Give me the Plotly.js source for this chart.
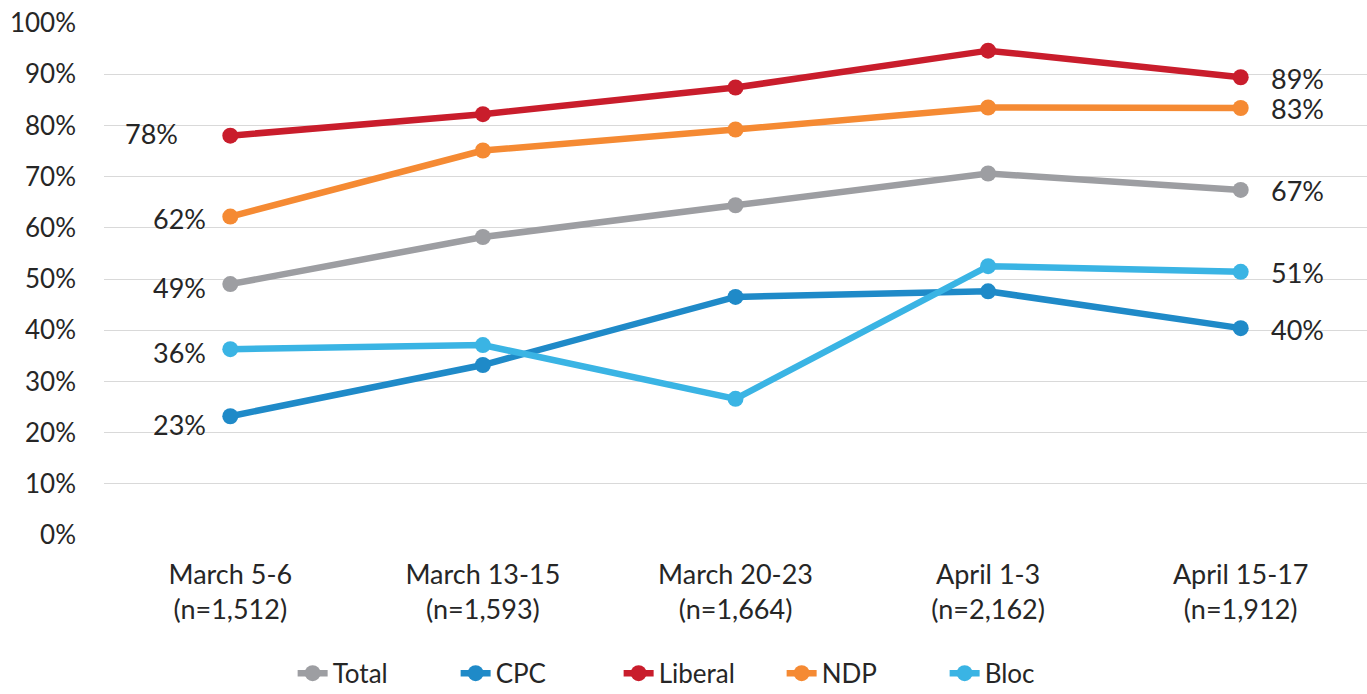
<!DOCTYPE html>
<html>
<head>
<meta charset="utf-8">
<script src="https://cdn.plot.ly/plotly-3.0.1.min.js"></script>
<style>html,body{margin:0;padding:0;background:#fff;}#chart{width:1367px;height:694px;}</style>
</head>
<body>
<div id="chart"></div>
<script>
const categories = ["March 5-6<br>(n=1,512)", "March 13-15<br>(n=1,593)", "March 20-23<br>(n=1,664)", "April 1-3<br>(n=2,162)", "April 15-17<br>(n=1,912)"];
const seriesNames = ["Total", "CPC", "Liberal", "NDP", "Bloc"];
const total   = [49.0, 58.2, 64.4, 70.6, 67.4];
const cpc     = [23.2, 33.2, 46.5, 47.6, 40.4];
const liberal = [78.0, 82.2, 87.4, 94.6, 89.4];
const ndp     = [62.2, 75.1, 79.2, 83.5, 83.4];
const bloc    = [36.3, 37.1, 26.6, 52.5, 51.4];
const yTickVals = [0, 10, 20, 30, 40, 50, 60, 70, 80, 90, 100];
const yTickText = ["0%", "10%", "20%", "30%", "40%", "50%", "60%", "70%", "80%", "90%", "100%"];

const seriesValues = [total, cpc, liberal, ndp, bloc];
const colors = ["#9d9ea2", "#1f8ac8", "#c91d2c", "#f58a33", "#3ab4e4"];
const leftShift = [-22, -22, -50, -22, -22];
const leftYShift = [-3, -8, 2, -2, -3];
const FONT = "Lato, 'Open Sans', sans-serif";
const TXT = "#262626";

const traces = seriesNames.map((name, i) => ({
  type: "scatter",
  mode: "lines+markers",
  name: name,
  x: categories,
  y: seriesValues[i],
  line: {color: colors[i], width: 6.5},
  marker: {color: colors[i], size: 16},
  hoverinfo: "skip"
}));

const annotations = [];
seriesValues.forEach((vals, i) => {
  annotations.push({
    x: categories[0], y: vals[0], xref: "x", yref: "y",
    text: Math.round(vals[0]) + "%", showarrow: false,
    xanchor: "right", yanchor: "middle", xshift: leftShift[i], yshift: leftYShift[i],
    font: {family: FONT, size: 27, color: TXT}
  });
  const n = vals.length - 1;
  annotations.push({
    x: categories[n], y: vals[n], xref: "x", yref: "y",
    text: Math.round(vals[n]) + "%", showarrow: false,
    xanchor: "left", yanchor: "middle", xshift: 28, yshift: -1,
    font: {family: FONT, size: 27, color: TXT}
  });
});

const layout = {
  width: 1367, height: 694,
  margin: {l: 104, r: 0, t: 23, b: 159, autoexpand: false},
  paper_bgcolor: "#ffffff",
  plot_bgcolor: "#ffffff",
  showlegend: true,
  legend: {
    orientation: "h", x: 0.472, xanchor: "center", y: -0.27, yanchor: "middle",
    font: {family: FONT, size: 26, color: TXT},
    entrywidth: 118, entrywidthmode: "pixels",
    tracegroupgap: 0
  },
  xaxis: {
    type: "category",
    range: [-0.5, 4.5],
    automargin: false,
    showgrid: false, zeroline: false, showline: false,
    ticks: "",
    ticklabelstandoff: 21,
    tickfont: {family: FONT, size: 27, color: TXT},
    fixedrange: true
  },
  yaxis: {
    range: [0, 100],
    automargin: false,
    tickvals: yTickVals, ticktext: yTickText,
    showgrid: true, gridcolor: "#d9d9d9", gridwidth: 1,
    zeroline: false, showline: false, ticks: "",
    ticklabelstandoff: 27,
    tickfont: {family: FONT, size: 26, color: TXT},
    fixedrange: true
  },
  annotations: annotations
};

Plotly.newPlot("chart", traces, layout, {displayModeBar: false, staticPlot: true});
</script>
</body>
</html>
